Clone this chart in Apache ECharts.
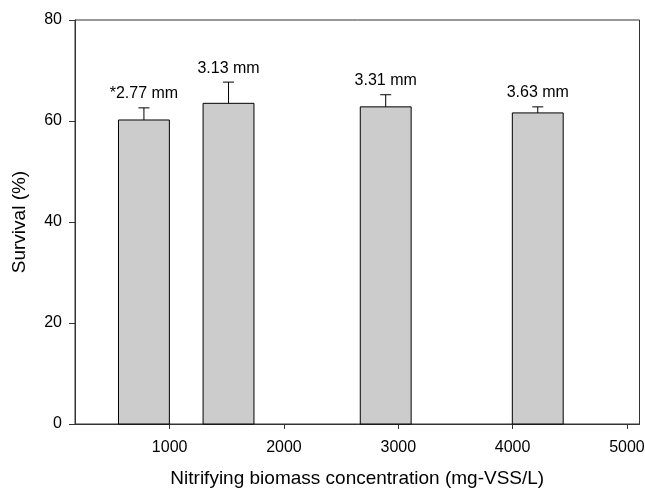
<!DOCTYPE html>
<html>
<head>
<meta charset="utf-8">
<script src="https://cdn.jsdelivr.net/npm/echarts@6/dist/echarts.min.js"></script>
<style>html,body{margin:0;padding:0;background:#fff;}#c{width:645px;height:489px;}</style>
</head>
<body>
<div id="c"></div>
<script>
var concentrations = [775, 1515, 2890, 4220];
var survival = [60.2, 63.5, 62.8, 61.6];
var errorUp = [2.4, 4.2, 2.4, 1.2];
var sizeLabels = ['*2.77 mm', '3.13 mm', '3.31 mm', '3.63 mm'];
var xTicks = [1000, 2000, 3000, 4000, 5000];
var yTicks = [0, 20, 40, 60, 80];
var barWidthUnits = 445;

var FONT = 'Liberation Sans, Arial, Helvetica, sans-serif';
var chart = echarts.init(document.getElementById('c'), null, {renderer: 'canvas'});

var data = concentrations.map(function (x, i) {
  return [x, survival[i], errorUp[i]];
});

chart.setOption({
  animation: false,
  grid: {left: 75, right: 5.5, top: 20, bottom: 65, outerBoundsMode: 'none', containLabel: false,
    show: true, borderColor: '#333333', borderWidth: 1, backgroundColor: 'transparent'},
  xAxis: {
    type: 'value', min: 172, max: 5110,
    name: 'Nitrifying biomass concentration (mg-VSS/L)',
    nameLocation: 'middle', nameGap: 45,
    nameTextStyle: {fontFamily: FONT, fontSize: 19, color: '#000'},
    axisLine: {show: true, lineStyle: {color: '#333333', width: 1}},
    axisTick: {show: true, inside: false, length: 5, customValues: xTicks, lineStyle: {color: '#333333'}},
    axisLabel: {customValues: xTicks, formatter: function (v) { return String(v); }, fontFamily: FONT, fontSize: 16, color: '#000', margin: 16},
    splitLine: {show: false}
  },
  yAxis: {
    type: 'value', min: 0, max: 80, interval: 20,
    name: 'Survival (%)', nameLocation: 'middle', nameGap: 46,
    nameTextStyle: {fontFamily: FONT, fontSize: 19, color: '#000'},
    axisLine: {show: true, lineStyle: {color: '#333333', width: 1}},
    axisTick: {show: true, inside: false, length: 6, customValues: yTicks, lineStyle: {color: '#333333'}},
    axisLabel: {customValues: yTicks, fontFamily: FONT, fontSize: 16, color: '#000', margin: 13},
    splitLine: {show: false}
  },
  series: [{
    type: 'custom',
    data: data,
    clip: false,
    renderItem: function (params, api) {
      var x = api.value(0), y = api.value(1), e = api.value(2);
      var label = sizeLabels[params.dataIndex];
      var base = api.coord([x, 0]);
      var top = api.coord([x, y]);
      var errTop = api.coord([x, y + e]);
      var w = api.size([barWidthUnits, 0])[0];
      var capHalf = 5.5;
      return {
        type: 'group',
        children: [
          {type: 'rect', shape: {x: base[0] - w / 2, y: top[1], width: w, height: base[1] - top[1]},
            style: {fill: '#cccccc', stroke: '#000', lineWidth: 1}},
          {type: 'line', shape: {x1: top[0], y1: top[1], x2: errTop[0], y2: errTop[1]},
            style: {stroke: '#000', lineWidth: 1}},
          {type: 'line', shape: {x1: errTop[0] - capHalf, y1: errTop[1], x2: errTop[0] + capHalf, y2: errTop[1]},
            style: {stroke: '#000', lineWidth: 1}},
          {type: 'text', x: errTop[0], y: errTop[1] - 6,
            style: {text: label, fontFamily: FONT, fontSize: 16, fill: '#000', align: 'center', verticalAlign: 'bottom'}}
        ]
      };
    }
  }]
});
</script>
</body>
</html>
